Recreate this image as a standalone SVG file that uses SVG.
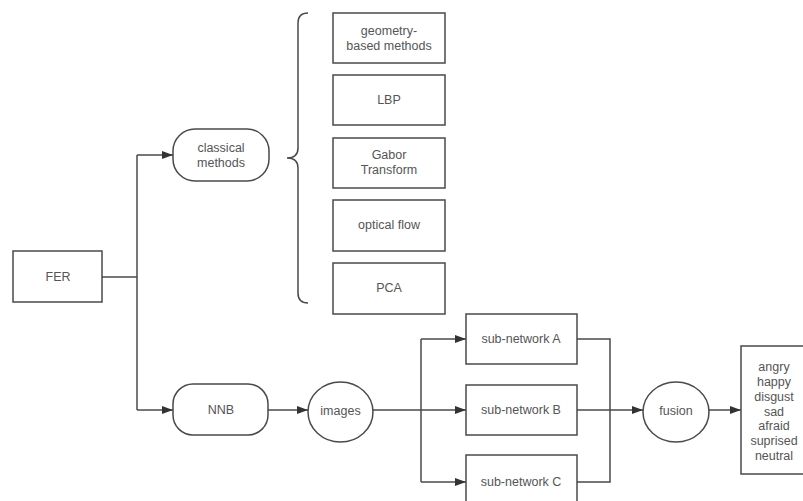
<svg xmlns="http://www.w3.org/2000/svg" width="803" height="501" viewBox="0 0 803 501">
<style>
.n{fill:#fff;stroke:#4a4a4a;stroke-width:1.5}
.t{font-family:"Liberation Sans",Arial,sans-serif;font-size:12.5px;fill:#555;text-anchor:middle}
.c{fill:none;stroke:#4a4a4a;stroke-width:1.5}
</style>
<defs>
<marker id="ah" markerUnits="userSpaceOnUse" markerWidth="12" markerHeight="10" refX="11" refY="5" orient="auto">
<path d="M0 1 L11 5 L0 9 Z" fill="#333"/>
</marker>
</defs>
<rect width="803" height="501" fill="#fff"/>
<g id="connectors">
<path class="c" d="M102 277 H137"/>
<path class="c" d="M137 155 V410"/>
<path class="c" d="M137 155 H173" marker-end="url(#ah)"/>
<path class="c" d="M137 410 H173" marker-end="url(#ah)"/>
<path class="c" d="M268 410 H308" marker-end="url(#ah)"/>
<path class="c" d="M373 410 H466" marker-end="url(#ah)"/>
<path class="c" d="M421 339 V482"/>
<path class="c" d="M421 339 H466" marker-end="url(#ah)"/>
<path class="c" d="M421 482 H466" marker-end="url(#ah)"/>
<path class="c" d="M577 339 H610 V482 H577"/>
<path class="c" d="M577 410 H643" marker-end="url(#ah)"/>
<path class="c" d="M709 410 H741" marker-end="url(#ah)"/>
</g>
<g id="brace">
<path class="c" d="M308 13 Q298 13 298 23 V148 Q298 158 287 158 Q298 158 298 168 V293 Q298 303 308 303"/>
</g>
<g id="fer"><rect class="n" x="13" y="251" width="89" height="51"/><text class="t" x="58" y="281">FER</text></g>
<g id="classical"><rect class="n" x="173" y="129" width="96" height="52" rx="22"/><text class="t" x="221" y="152">classical</text><text class="t" x="221" y="167">methods</text></g>
<g id="geometry"><rect class="n" x="333" y="13" width="112" height="50"/><text class="t" x="389" y="35">geometry-</text><text class="t" x="389" y="50">based methods</text></g>
<g id="lbp"><rect class="n" x="333" y="75" width="112" height="50"/><text class="t" x="389" y="104">LBP</text></g>
<g id="gabor"><rect class="n" x="333" y="138" width="112" height="50"/><text class="t" x="389" y="159">Gabor</text><text class="t" x="389" y="174">Transform</text></g>
<g id="optical"><rect class="n" x="333" y="200" width="112" height="51"/><text class="t" x="389" y="229">optical flow</text></g>
<g id="pca"><rect class="n" x="333" y="263" width="112" height="51"/><text class="t" x="389" y="292">PCA</text></g>
<g id="nnb"><rect class="n" x="173" y="384" width="95" height="51" rx="20"/><text class="t" x="221" y="414">NNB</text></g>
<g id="images"><ellipse class="n" cx="340.5" cy="412" rx="32.5" ry="30"/><text class="t" x="340.5" y="415">images</text></g>
<g id="subA"><rect class="n" x="466" y="314" width="111" height="50"/><text class="t" x="521" y="343">sub-network A</text></g>
<g id="subB"><rect class="n" x="466" y="385" width="111" height="50"/><text class="t" x="521" y="414">sub-network B</text></g>
<g id="subC"><rect class="n" x="466" y="455" width="111" height="52"/><text class="t" x="521" y="486">sub-network C</text></g>
<g id="fusion"><ellipse class="n" cx="676" cy="412" rx="33" ry="30"/><text class="t" x="676" y="415">fusion</text></g>
<g id="result"><rect class="n" x="741" y="346" width="65" height="128"/>
<text class="t" x="774" y="371">angry</text>
<text class="t" x="774" y="386">happy</text>
<text class="t" x="774" y="401">disgust</text>
<text class="t" x="774" y="415.5">sad</text>
<text class="t" x="774" y="430">afraid</text>
<text class="t" x="774" y="445">suprised</text>
<text class="t" x="774" y="459.5">neutral</text>
</g>
</svg>
